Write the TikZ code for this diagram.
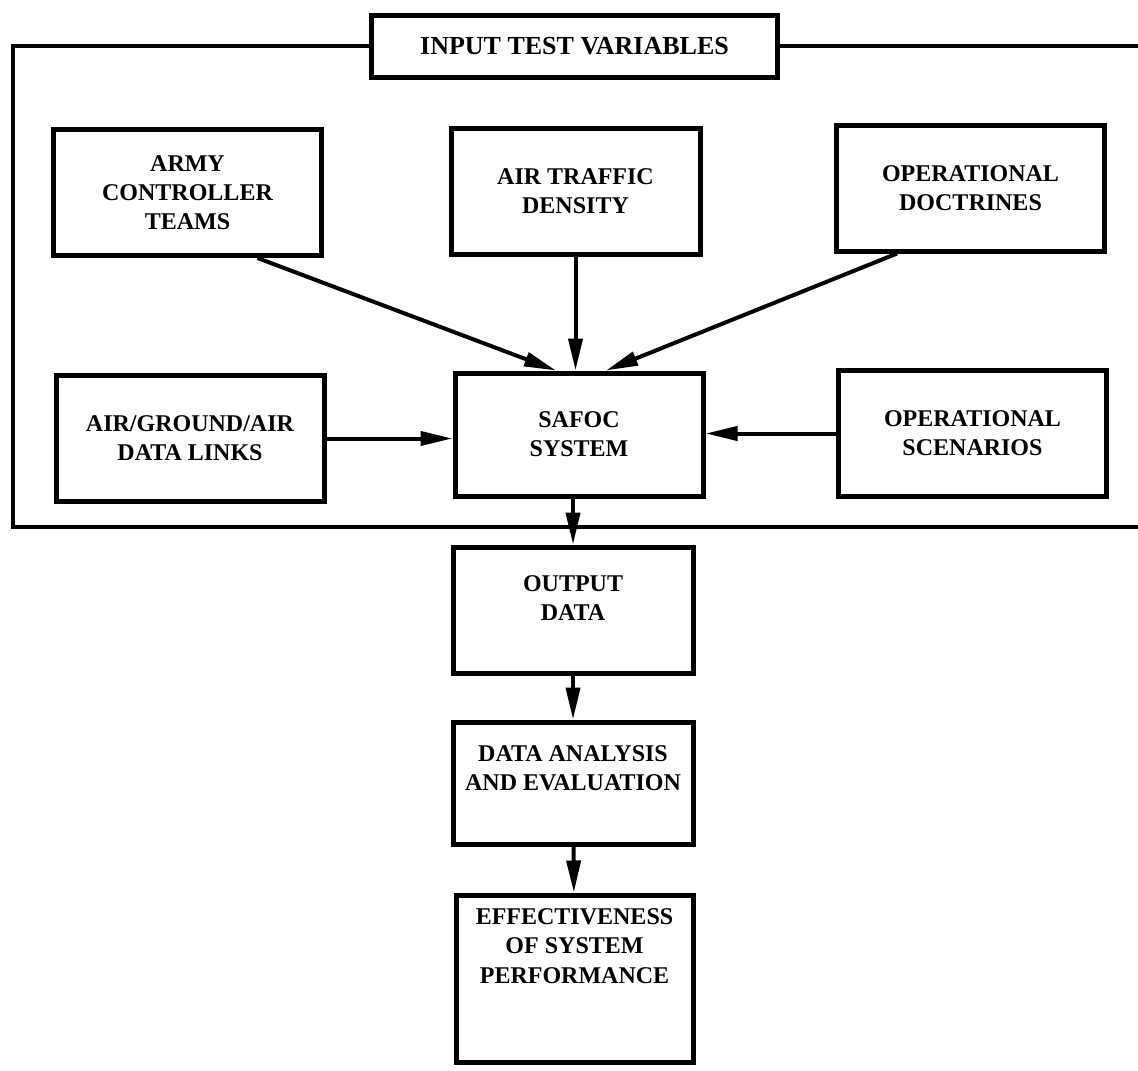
\documentclass[tikz,border=0pt]{standalone}
\usepackage{fontspec}
\setmainfont{Liberation Serif}
\usetikzlibrary{arrows.meta,calc}

\begin{document}
\begin{tikzpicture}[x=0.5pt, y=-0.5pt,
    box/.style={draw, line width=2.5pt, minimum width=134pt, minimum height=63pt,
                align=center, inner sep=2pt,
                font=\fontsize{12}{14.6}\selectfont\bfseries},
    arrow/.style={-{Triangle[length=16pt, width=7pt]}, line width=2pt},
    frame/.style={line width=2pt}
  ]
    \useasboundingbox (0,0) rectangle (1138,1070);

    % Title and frame
    \node[box, minimum width=203pt, minimum height=31pt,
          font=\fontsize{13}{15}\selectfont\bfseries] (title) at (574.5,46.5)
      {INPUT TEST VARIABLES};
    \coordinate (frameNW) at (13,46.5);
    \coordinate (frameSW) at (13,527);
    \coordinate (frameSE) at (1138,527);
    \coordinate (frameNE) at (1138,46.5);

    % Input variables
    \node[box] (army) at (187.5,192.5) {ARMY\\CONTROLLER\\TEAMS};
    \node[box, minimum width=124.5pt] (traffic) at (575.5,191.5) {AIR TRAFFIC\\DENSITY};
    \node[box] (doctrines) at (970.5,188) {OPERATIONAL\\DOCTRINES};
    \node[box] (links) at (190,438.5) {AIR/GROUND/AIR\\DATA LINKS};
    \node[box, minimum width=124pt, minimum height=61.5pt] (safoc) at (579,434.5)
      {SAFOC\\SYSTEM};
    \node[box] (scenarios) at (972.5,433.5) {OPERATIONAL\\SCENARIOS};

    % Outputs
    \node[box, minimum width=120pt] (output) at (573,610)
      {OUTPUT\\DATA\\[-3pt]\mbox{}};
    \node[box, minimum width=120pt, minimum height=61pt] (analysis) at (573,783)
      {DATA ANALYSIS\\AND EVALUATION\\\mbox{}};
    \node[box, minimum width=118.5pt, minimum height=83.5pt] (effect) at (574.5,978.5)
      {EFFECTIVENESS\\OF SYSTEM\\PERFORMANCE\\[18pt]\mbox{}};

    % Frame
    \draw[frame] (title.west) -- (frameNW) -- (frameSW) -- (frameSE);
    \draw[frame] (title.east) -- (frameNE);

    % Arrows
    \draw[arrow] ([xshift=35pt]army.south) -- ([xshift=-11.5pt]safoc.north);
    \draw[arrow] (traffic.south) -- (traffic.south |- safoc.north);
    \draw[arrow] ([xshift=-36.75pt]doctrines.south) -- ([xshift=13.5pt]safoc.north);
    \draw[arrow] (links.east) -- (links.east -| safoc.west);
    \draw[arrow] (scenarios.west) -- (scenarios.west -| safoc.east);
    \draw[arrow] (output.north |- safoc.south) -- (output.north);
    \draw[arrow] (output) -- (analysis);
    \draw[arrow] (analysis) -- (effect);
  \end{tikzpicture}
\end{document}
